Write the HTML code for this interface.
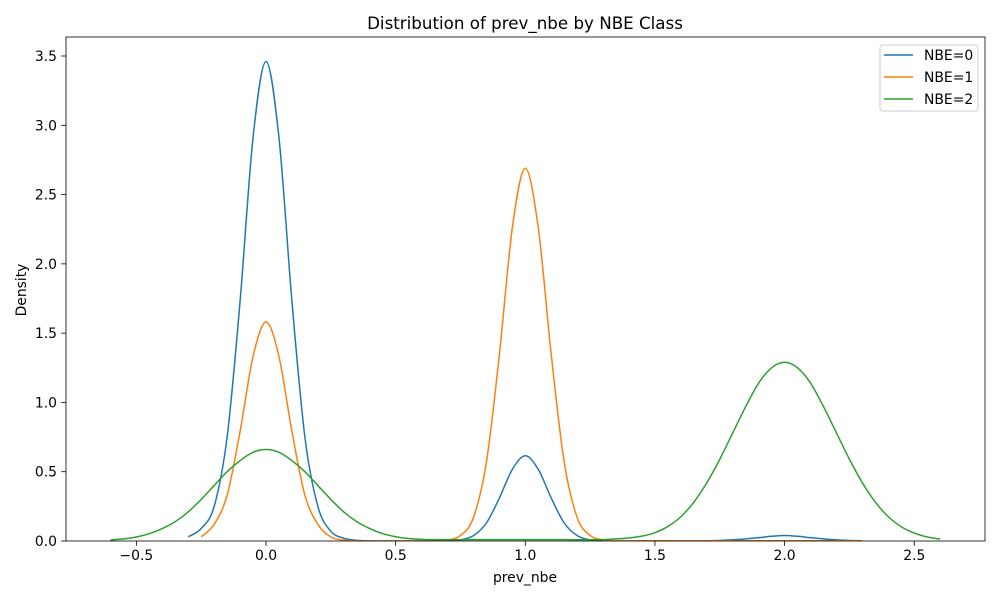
<!DOCTYPE html>
<html><head><meta charset="utf-8"><style>
body{margin:0;background:#fff;font-family:"Liberation Sans","DejaVu Sans",sans-serif}
svg text{font-family:"DejaVu Sans","Liberation Sans",sans-serif;fill:#000}
</style></head><body>
<svg id="chart" width="1000" height="600" viewBox="0 0 1000 600" xmlns="http://www.w3.org/2000/svg">
<rect width="1000" height="600" fill="#fff"/>
<text x="525" y="29" font-size="16.7" text-anchor="middle">Distribution of prev_nbe by NBE Class</text>
<g id="plot"></g>
<text x="525" y="582" font-size="13.9" text-anchor="middle">prev_nbe</text>
<text transform="translate(26,290) rotate(-90)" font-size="13.9" text-anchor="middle">Density</text>
</svg>
<script>
const xTicks=[-0.5,0,0.5,1.0,1.5,2.0,2.5];
const xTickLabels=["−0.5","0.0","0.5","1.0","1.5","2.0","2.5"];
const yTicks=[0,0.5,1,1.5,2,2.5,3,3.5];
const yTickLabels=["0.0","0.5","1.0","1.5","2.0","2.5","3.0","3.5"];
const seriesNames=["NBE=0","NBE=1","NBE=2"];
const xStep=0.05;
const nbe0Start=-0.3;
const nbe0Values=[.03,.09,.25,.75,1.73,2.91,3.46,2.91,1.73,.75,.25,.07,.02,.005,.001,0,0,0,0,0,.001,.008,.039,.13,.31,.517,.615,.517,.31,.13,.039,.008,.002,0,0,0,0,0,0,.001,.002,.004,.008,.015,.024,.034,.04,.034,.024,.015,.008,.004,.002];
const nbe1Start=-0.25;
const nbe1Values=[.03,.12,.33,.79,1.33,1.58,1.33,.79,.33,.12,.03,.006,.001,0,0,0,0,0,.002,.008,.04,.17,.57,1.345,2.26,2.69,2.26,1.345,.57,.17,.04,.008,.002,0,.002,.002,.002,.002,.002,.002,.002,.002,.002,.002,.002,.002,.002,.002,.002,.002,.002,.002];
const nbe2Start=-0.6;
const nbe2Values=[.007,.015,.029,.053,.09,.14,.21,.30,.40,.50,.58,.64,.66,.64,.58,.50,.40,.30,.21,.14,.09,.053,.031,.018,.012,.01,.009,.009,.01,.01,.01,.01,.01,.01,.01,.01,.009,.009,.01,.015,.022,.035,.06,.105,.175,.28,.42,.59,.78,.97,1.14,1.25,1.29,1.25,1.14,.97,.78,.59,.42,.28,.175,.103,.057,.029,.014];
const colors=["#1f77b4","#ff7f0e","#2ca02c"];
const L=66,R=985,T=37,B=541;
const X=v=>266+v*259.3;
const Y=v=>B-v*138.57;
const NS="http://www.w3.org/2000/svg";
const plot=document.getElementById('plot');
function mk(t,a){const e=document.createElementNS(NS,t);for(const k in a)e.setAttribute(k,a[k]);return e;}
xTicks.forEach((v,i)=>{
 const g=mk('g',{});
 
 
 g.appendChild(mk('line',{x1:X(v),x2:X(v),y1:B,y2:B+4.9,stroke:'#000','stroke-width':0.8}));
 const t=mk('text',{x:X(v),y:B+19,'font-size':13.9,'text-anchor':'middle'});t.textContent=xTickLabels[i];g.appendChild(t);
 plot.appendChild(g);
});
yTicks.forEach((v,i)=>{
 const g=mk('g',{});
 
 
 g.appendChild(mk('line',{x1:L-4.9,x2:L,y1:Y(v),y2:Y(v),stroke:'#000','stroke-width':0.8}));
 const t=mk('text',{x:L-9,y:Y(v)+5,'font-size':13.9,'text-anchor':'end'});t.textContent=yTickLabels[i];g.appendChild(t);
 plot.appendChild(g);
});
function pathFor(start,vals){
 const pts=vals.map((v,i)=>[X(start+i*xStep),Y(v)]);
 let d='M'+pts[0][0].toFixed(2)+','+pts[0][1].toFixed(2);
 for(let i=0;i<pts.length-1;i++){
  const p0=pts[Math.max(0,i-1)],p1=pts[i],p2=pts[i+1],p3=pts[Math.min(pts.length-1,i+2)];
  const c1=[p1[0]+(p2[0]-p0[0])/6,p1[1]+(p2[1]-p0[1])/6];
  const c2=[p2[0]-(p3[0]-p1[0])/6,p2[1]-(p3[1]-p1[1])/6];
  d+=` C${c1[0].toFixed(2)},${Math.min(B,c1[1]).toFixed(2)} ${c2[0].toFixed(2)},${Math.min(B,c2[1]).toFixed(2)} ${p2[0].toFixed(2)},${p2[1].toFixed(2)}`;
 }
 return d;
}
const defs=mk('defs',{});const cp=mk('clipPath',{id:'clip'});cp.appendChild(mk('rect',{x:L,y:T,width:R-L,height:B-T}));defs.appendChild(cp);plot.appendChild(defs);
const series=[[nbe0Start,nbe0Values],[nbe1Start,nbe1Values],[nbe2Start,nbe2Values]];
series.forEach((s,i)=>{
 const p=mk('path',{d:pathFor(s[0],s[1]),fill:'none',stroke:colors[i],'stroke-width':1.5,'clip-path':'url(#clip)'});
 
 
 plot.appendChild(p);
});
const frame=mk('rect',{x:L,y:T,width:R-L,height:B-T,fill:'none',stroke:'#000','stroke-width':0.8});


plot.appendChild(frame);
const lg=mk('g',{});


lg.appendChild(mk('rect',{x:880,y:45,width:98,height:66,rx:3,fill:'#fff',stroke:'#ccc','stroke-width':1}));
seriesNames.forEach((n,i)=>{
 const e=mk('g',{});
 
 
 const y=55+i*22;
 e.appendChild(mk('line',{x1:884,x2:913,y1:y,y2:y,stroke:colors[i],'stroke-width':1.5}));
 const t=mk('text',{x:924,y:y+5,'font-size':13.9});t.textContent=n;e.appendChild(t);
 lg.appendChild(e);
});
plot.appendChild(lg);
</script>
</body></html>
